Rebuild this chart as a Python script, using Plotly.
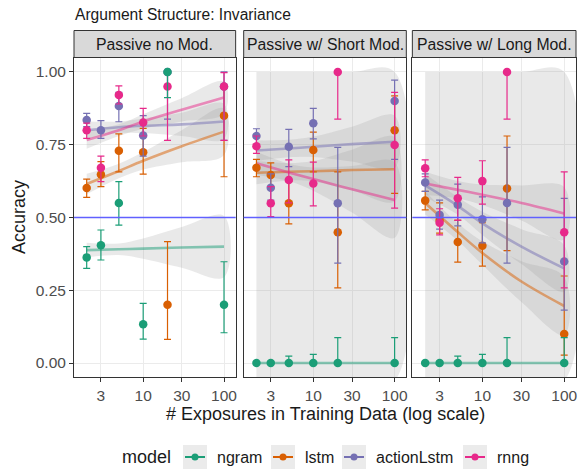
import plotly.graph_objects as go

# ---------------- data ----------------
panels = ["Passive no Mod.", "Passive w/ Short Mod.", "Passive w/ Long Mod."]
models = ["ngram", "lstm", "actionLstm", "rnng"]
colors = {"ngram": "#1B9E77", "lstm": "#D95F02", "actionLstm": "#7570B3", "rnng": "#E7298A"}
line_colors = {"ngram": "rgba(27,158,119,0.5)", "lstm": "rgba(217,95,2,0.5)",
               "actionLstm": "rgba(117,112,179,0.5)", "rnng": "rgba(231,41,138,0.5)"}

exposures = [2, 3, 5, 10, 20, 100]

# accuracy point estimates, per panel, per model
acc_p1 = {"ngram": [0.363, 0.405, 0.55, 0.133, 1.0, 0.20],
          "lstm": [0.601, 0.648, 0.729, 0.724, 0.20, 0.85],
          "actionLstm": [0.835, 0.80, 0.883, 0.782, 1.0, 0.95],
          "rnng": [0.80, 0.671, 0.921, 0.826, 0.95, 0.95]}
lo_p1 = {"ngram": [0.325, 0.354, 0.474, 0.082, 0.912, 0.104],
         "lstm": [0.569, 0.606, 0.657, 0.649, 0.081, 0.64],
         "actionLstm": [0.812, 0.772, 0.829, 0.711, 0.838, 0.765],
         "rnng": [0.772, 0.623, 0.89, 0.78, 0.765, 0.765]}
hi_p1 = {"ngram": [0.40, 0.457, 0.623, 0.205, 1.0, 0.348],
         "lstm": [0.632, 0.692, 0.787, 0.806, 0.417, 0.95],
         "actionLstm": [0.858, 0.833, 0.93, 0.85, 1.0, 1.0],
         "rnng": [0.824, 0.711, 0.952, 0.875, 1.0, 0.998]}

acc_p2 = {"ngram": [0, 0, 0, 0, 0, 0],
          "lstm": [0.671, 0.646, 0.549, 0.732, 0.449, 0.80],
          "actionLstm": [0.78, 0.602, 0.743, 0.824, 0.549, 0.90],
          "rnng": [0.745, 0.549, 0.629, 0.617, 1.0, 0.749]}
lo_p2 = {"ngram": [0, 0, 0, 0, 0, 0],
         "lstm": [0.64, 0.60, 0.478, 0.657, 0.258, 0.583],
         "actionLstm": [0.75, 0.56, 0.675, 0.77, 0.343, 0.70],
         "rnng": [0.72, 0.503, 0.55, 0.54, 0.838, 0.532]}
hi_p2 = {"ngram": [0.0, 0.006, 0.024, 0.03, 0.087, 0.087],
         "lstm": [0.70, 0.688, 0.623, 0.793, 0.657, 0.918],
         "actionLstm": [0.805, 0.65, 0.803, 0.875, 0.741, 0.972],
         "rnng": [0.78, 0.606, 0.698, 0.69, 1.0, 0.93]}

acc_p3 = {"ngram": [0, 0, 0, 0, 0, 0],
          "lstm": [0.558, 0.491, 0.416, 0.403, 0.60, 0.10],
          "actionLstm": [0.62, 0.509, 0.544, 0.494, 0.55, 0.349],
          "rnng": [0.669, 0.482, 0.566, 0.625, 1.0, 0.449]}
lo_p3 = {"ngram": [0, 0, 0, 0, 0, 0],
         "lstm": [0.526, 0.446, 0.347, 0.333, 0.386, 0.027],
         "actionLstm": [0.59, 0.46, 0.471, 0.413, 0.343, 0.182],
         "rnng": [0.64, 0.44, 0.49, 0.546, 0.838, 0.258]}
hi_p3 = {"ngram": [0.0, 0.006, 0.024, 0.03, 0.087, 0.087],
         "lstm": [0.59, 0.55, 0.491, 0.482, 0.78, 0.299],
         "actionLstm": [0.65, 0.56, 0.615, 0.571, 0.741, 0.566],
         "rnng": [0.698, 0.53, 0.638, 0.695, 1.0, 0.657]}

# smoothed fits at these exposures
fit_x = [2, 5, 10, 30, 100]
fit_p1 = {"ngram": [0.388, 0.391, 0.393, 0.397, 0.40],
          "lstm": [0.615, 0.66, 0.695, 0.745, 0.795],
          "actionLstm": [0.80, 0.81, 0.815, 0.82, 0.83],
          "rnng": [0.766, 0.80, 0.83, 0.87, 0.912]}
se_p1 = {"ngram": [0.025, 0.02, 0.035, 0.07, 0.105],
         "lstm": [0.035, 0.025, 0.03, 0.055, 0.08],
         "actionLstm": [0.03, 0.02, 0.025, 0.04, 0.06],
         "rnng": [0.03, 0.02, 0.025, 0.04, 0.055]}
fit_p2 = {"ngram": [0, 0, 0, 0, 0],
          "lstm": [0.654, 0.657, 0.659, 0.663, 0.666],
          "actionLstm": [0.73, 0.737, 0.743, 0.752, 0.76],
          "rnng": [0.686, 0.655, 0.632, 0.597, 0.56]}
se_p2 = {"lstm": [0.04, 0.03, 0.035, 0.07, 0.11],
         "actionLstm": [0.035, 0.03, 0.035, 0.06, 0.09],
         "rnng": [0.04, 0.03, 0.04, 0.08, 0.13]}
fit_p3 = {"ngram": [0, 0, 0, 0, 0],
          "lstm": [0.55, 0.45, 0.378, 0.28, 0.196],
          "actionLstm": [0.61, 0.54, 0.48, 0.40, 0.325],
          "rnng": [0.617, 0.595, 0.578, 0.55, 0.514]}
se_p3 = {"lstm": [0.04, 0.03, 0.04, 0.07, 0.10],
         "actionLstm": [0.04, 0.03, 0.04, 0.06, 0.08],
         "rnng": [0.04, 0.03, 0.035, 0.06, 0.09]}
# degenerate ngram band (all-zero accuracy) in panels 2 and 3
ngram_band_lo = [-0.06, -0.06, -0.06, -0.06, -0.06]
ngram_band_hi = [1.0, 1.0, 1.0, 1.0, 1.0]

chance = 0.5
x_ticks = [3, 10, 30, 100]
y_ticks = [0, 0.25, 0.5, 0.75, 1.0]
y_labels = ["0.00", "0.25", "0.50", "0.75", "1.00"]

panel_data = [
    (acc_p1, lo_p1, hi_p1, fit_p1, se_p1),
    (acc_p2, lo_p2, hi_p2, fit_p2, se_p2),
    (acc_p3, lo_p3, hi_p3, fit_p3, se_p3),
]

# ---------------- figure ----------------
W, H = 581, 470
ML, MR, MT, MB = 74, 5, 30, 93
PW, PH = W - ML - MR, H - MT - MB
FONT = "Liberation Sans, Arial, sans-serif"
fig = go.Figure()

domains = [[0.0, 0.322], [0.338, 0.662], [0.674, 1.0]]
ytop = (H - MB - 58) / PH
band_fill = "rgba(153,153,153,0.22)"
draw_order = ["lstm", "actionLstm", "rnng", "ngram"]

for p, (acc, lo, hi, fit, se) in enumerate(panel_data):
    xa = "x" if p == 0 else f"x{p+1}"
    ya = "y" if p == 0 else f"y{p+1}"
    # ribbons
    for m in models:
        if m == "ngram" and p > 0:
            lower = ngram_band_lo
            upper = ngram_band_hi
        else:
            lower = [f - s for f, s in zip(fit[m], se[m])]
            upper = [f + s for f, s in zip(fit[m], se[m])]
        fig.add_trace(go.Scatter(
            x=fit_x + fit_x[::-1], y=upper + lower[::-1], fill="toself",
            fillcolor=band_fill, line=dict(width=0, shape="spline"), mode="lines",
            hoverinfo="skip", showlegend=False, xaxis=xa, yaxis=ya))
    # fitted lines
    for m in models:
        fig.add_trace(go.Scatter(
            x=fit_x, y=fit[m], mode="lines",
            line=dict(color=line_colors[m], width=2.6, shape="spline"),
            showlegend=False, hoverinfo="skip", xaxis=xa, yaxis=ya))
    # points + error bars
    for m in draw_order:
        plus = [h - a for h, a in zip(hi[m], acc[m])]
        minus = [a - l for a, l in zip(acc[m], lo[m])]
        fig.add_trace(go.Scatter(
            x=exposures, y=acc[m], mode="markers", name=m,
            marker=dict(color=colors[m], size=8.5),
            error_y=dict(type="data", array=plus, arrayminus=minus,
                         color=colors[m], thickness=1.2, width=3.5),
            showlegend=False, xaxis=xa, yaxis=ya, cliponaxis=False))

tickfont = dict(size=15.5, color="#4D4D4D", family=FONT)
axis_common_x = dict(type="log", range=[0.144, 2.144], tickvals=x_ticks,
                     ticktext=[str(v) for v in x_ticks],
                     showgrid=True, gridcolor="#EBEBEB", gridwidth=1,
                     zeroline=False, showline=True, linecolor="#333333", linewidth=1,
                     mirror=True, ticks="outside", ticklen=4, tickcolor="#333333",
                     tickfont=tickfont, automargin=False)
axis_common_y = dict(range=[-0.048, 1.048], tickvals=y_ticks, ticktext=y_labels,
                     showgrid=True, gridcolor="#EBEBEB", gridwidth=1,
                     zeroline=False, showline=True, linecolor="#333333", linewidth=1,
                     mirror=True, ticks="outside", ticklen=4, tickcolor="#333333",
                     tickfont=tickfont, domain=[0, ytop], automargin=False)

layout = dict(
    width=W, height=H,
    margin=dict(l=ML, r=MR, t=MT, b=MB, autoexpand=False),
    paper_bgcolor="white", plot_bgcolor="white",
    font=dict(family=FONT, color="#1A1A1A"),
    showlegend=False,
)
for p in range(3):
    xk = "xaxis" if p == 0 else f"xaxis{p+1}"
    yk = "yaxis" if p == 0 else f"yaxis{p+1}"
    xd = dict(axis_common_x, domain=domains[p], anchor="y" if p == 0 else f"y{p+1}")
    yd = dict(axis_common_y, anchor="x" if p == 0 else f"x{p+1}")
    if p > 0:
        yd["showticklabels"] = False
        yd["ticks"] = ""
        yd["matches"] = "y"
    layout[xk] = xd
    layout[yk] = yd
fig.update_layout(**layout)


def px(x):
    return (x - ML) / PW


def py(y):
    return (H - MB - y) / PH


shapes = []
annotations = []
# chance reference line in each panel
for p in range(3):
    shapes.append(dict(type="line", xref=("x domain" if p == 0 else f"x{p+1} domain"),
                       yref=("y" if p == 0 else f"y{p+1}"), x0=0, x1=1, y0=chance, y1=chance,
                       line=dict(color="rgb(96,96,255)", width=1.4), layer="above"))
# facet strips
for p, name in enumerate(panels):
    shapes.append(dict(type="rect", xref="paper", yref="paper",
                       x0=domains[p][0], x1=domains[p][1], y0=py(57.5), y1=py(30.5),
                       fillcolor="#D9D9D9", line=dict(color="#333333", width=1)))
    annotations.append(dict(text=name, xref="paper", yref="paper",
                            x=(domains[p][0] + domains[p][1]) / 2, y=py(44.5),
                            xanchor="center", yanchor="middle", showarrow=False,
                            font=dict(size=15.8, color="#1A1A1A")))
# title and axis titles
annotations.append(dict(text="Argument Structure: Invariance", xref="paper", yref="paper",
                        x=px(73), y=py(15), xanchor="left", yanchor="middle",
                        showarrow=False, font=dict(size=15.6, color="#1A1A1A")))
annotations.append(dict(text="Accuracy", xref="paper", yref="paper",
                        x=px(19), y=py(217), xanchor="center", yanchor="middle",
                        textangle=-90, showarrow=False,
                        font=dict(size=18, color="#1A1A1A")))
annotations.append(dict(text="# Exposures in Training Data (log scale)", xref="paper",
                        yref="paper", x=px(325), y=py(414), xanchor="center",
                        yanchor="middle", showarrow=False,
                        font=dict(size=18, color="#1A1A1A")))
# legend (drawn manually to reproduce the grey key boxes)
LY = 457
annotations.append(dict(text="model", xref="paper", yref="paper", x=px(173), y=py(LY),
                        xanchor="right", yanchor="middle", showarrow=False,
                        font=dict(size=18, color="#1A1A1A")))
key_left = {"ngram": 183, "lstm": 271, "actionLstm": 342, "rnng": 463}
for m in models:
    kx = key_left[m]
    shapes.append(dict(type="rect", xref="paper", yref="paper",
                       x0=px(kx), x1=px(kx + 24), y0=py(LY + 12), y1=py(LY - 12),
                       fillcolor="#EBEBEB", line=dict(width=0)))
    shapes.append(dict(type="line", xref="paper", yref="paper",
                       x0=px(kx + 2), x1=px(kx + 22), y0=py(LY), y1=py(LY),
                       line=dict(color=colors[m], width=2)))
    shapes.append(dict(type="circle", xref="paper", yref="paper",
                       x0=px(kx + 8.5), x1=px(kx + 15.5), y0=py(LY + 3.5), y1=py(LY - 3.5),
                       fillcolor=colors[m], line=dict(width=0)))
    annotations.append(dict(text=m, xref="paper", yref="paper", x=px(kx + 32), y=py(LY),
                            xanchor="left", yanchor="middle", showarrow=False,
                            font=dict(size=16, color="#1A1A1A")))
fig.update_layout(shapes=shapes, annotations=annotations)

fig.write_html("out.html", config={"displayModeBar": False},
               post_script="document.body.style.margin='0';"
                           "document.body.style.padding='0';")
